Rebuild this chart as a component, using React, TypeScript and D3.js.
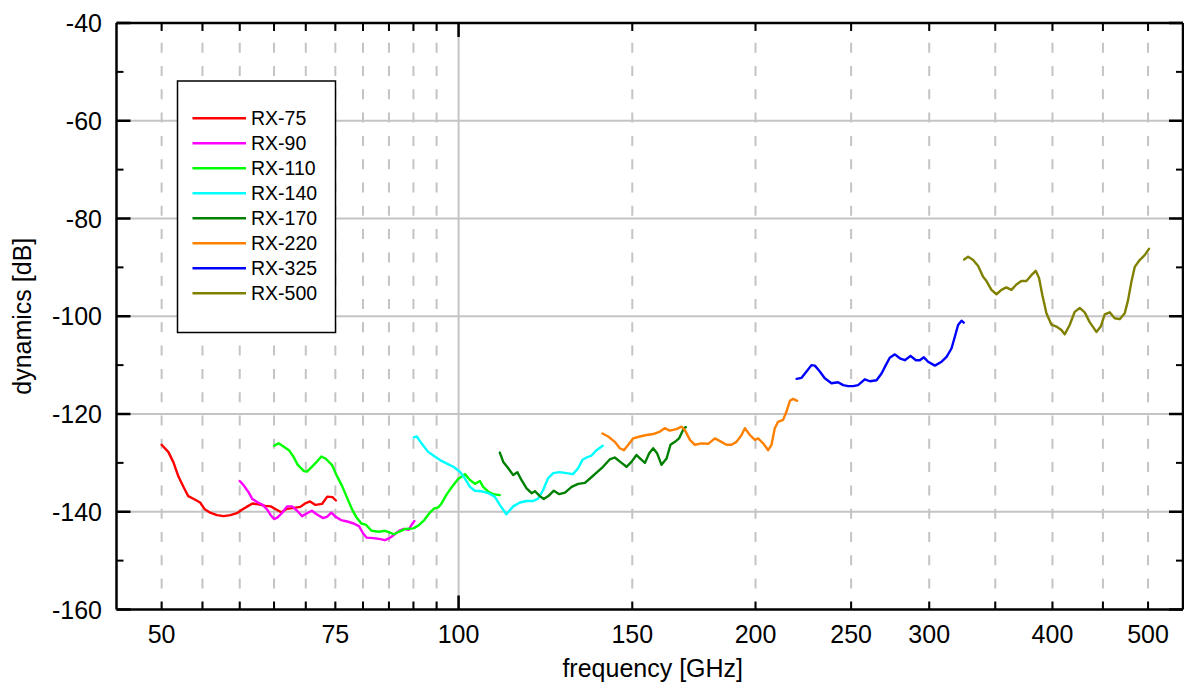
import React from "react";
import * as d3 from "d3";

const W = 1184;
const H = 691;

// ---------- data ----------
const rx75F = [50, 50.8, 51.4, 52.0, 52.7, 53.2, 53.9, 54.7, 55.3, 56.0, 56.9, 57.8, 58.7, 59.6, 60.3, 61.1, 61.8, 62.7, 63.7, 64.5, 65.4, 66.1, 67.0, 68.1, 69.1, 69.9, 70.7, 71.6, 72.7, 73.6, 74.5, 75.1];
const rx75Db = [-126.3, -127.8, -129.9, -132.8, -135.2, -136.8, -137.4, -138.1, -139.5, -140.2, -140.7, -140.9, -140.7, -140.3, -139.6, -138.9, -138.3, -138.5, -138.8, -138.9, -139.6, -140.1, -139.4, -139.2, -139.0, -138.3, -137.9, -138.6, -138.4, -136.9, -137.0, -137.7];

const rx90F = [60, 60.5, 61.2, 61.8, 62.6, 63.3, 64.0, 64.5, 65.0, 65.5, 66.2, 67.0, 67.8, 68.6, 69.4, 70.2, 71.0, 71.8, 72.9, 73.6, 74.3, 75.0, 76.0, 77.1, 78.3, 79.3, 80.0, 80.7, 82.0, 83.3, 84.2, 85.1, 85.9, 87.0, 88.0, 89.0, 89.6, 90.2];
const rx90Db = [-133.7, -134.5, -135.9, -137.4, -138.1, -138.6, -139.6, -140.7, -141.5, -141.2, -140.3, -138.9, -138.9, -139.8, -140.9, -140.3, -139.8, -140.5, -141.3, -141.0, -140.2, -141.0, -141.7, -142.0, -142.4, -143.0, -144.4, -145.3, -145.4, -145.6, -145.8, -145.4, -144.8, -143.9, -143.5, -143.7, -142.7, -141.9];

const rx110F = [65.0, 65.7, 66.5, 67.3, 68.0, 68.7, 69.7, 70.2, 71.0, 71.8, 72.6, 73.3, 74.4, 75.2, 76.1, 77.0, 77.9, 78.7, 79.7, 80.6, 81.6, 83.0, 84.2, 85.1, 86.0, 87.0, 88.3, 90.0, 91.2, 92.3, 93.4, 94.5, 95.4, 96.1, 97.3, 98.4, 99.9, 101.5, 102.7, 103.9, 105.1, 105.9, 107.2, 108.4, 110.1];
const rx110Db = [-126.5, -126.0, -126.7, -127.4, -128.7, -130.4, -131.7, -131.8, -130.8, -129.8, -128.7, -129.1, -130.4, -132.5, -134.5, -136.9, -139.3, -141.0, -142.4, -142.7, -143.9, -144.1, -143.9, -144.2, -144.6, -144.1, -143.5, -143.4, -142.7, -141.7, -140.3, -139.3, -139.1, -138.3, -136.4, -135.0, -133.3, -132.3, -133.5, -134.3, -133.7, -134.9, -135.9, -136.4, -136.6];

const rx140F = [90.1, 90.7, 91.7, 93.1, 94.6, 96.1, 97.2, 98.8, 100.3, 101.5, 102.7, 103.9, 105.5, 107.2, 108.8, 110.1, 111.8, 113.6, 115.4, 117.2, 119.0, 120.4, 121.8, 123.2, 124.7, 126.6, 128.6, 130.6, 132.2, 133.5, 134.8, 136.4, 138.0, 140.0];
const rx140Db = [-124.8, -124.6, -126.0, -127.7, -128.7, -129.6, -130.1, -130.8, -131.8, -133.2, -134.9, -135.7, -135.8, -136.2, -136.9, -138.6, -140.5, -138.9, -138.1, -137.8, -137.8, -137.3, -135.6, -133.2, -132.1, -131.9, -132.1, -132.3, -131.1, -129.4, -128.9, -128.5, -127.4, -126.5];

const rx170F = [110.1, 111.0, 112.3, 113.6, 114.7, 115.8, 117.2, 118.6, 119.5, 120.9, 122.0, 123.3, 124.9, 126.5, 128.2, 130.2, 132.2, 134.3, 135.9, 138.0, 140.1, 142.3, 144.0, 146.3, 148.0, 149.7, 151.5, 153.3, 154.5, 156.0, 157.5, 159.0, 160.6, 162.5, 164.0, 165.7, 167.3, 169.2, 170.0];
const rx170Db = [-127.9, -129.8, -131.1, -132.5, -131.9, -133.5, -135.2, -136.2, -135.8, -136.8, -137.4, -136.8, -135.7, -136.4, -136.1, -134.9, -134.3, -134.1, -133.2, -132.0, -130.8, -129.3, -128.9, -130.0, -130.8, -129.8, -128.4, -129.4, -130.0, -128.1, -127.0, -128.1, -130.4, -129.1, -126.3, -125.7, -125.0, -122.9, -122.7];

const rx220F = [139.9, 141.8, 144.0, 145.7, 147.1, 148.6, 150.3, 152.7, 155.1, 157.5, 160.0, 161.8, 163.7, 166.3, 168.3, 169.6, 171.6, 173.6, 176.3, 179.1, 181.9, 184.7, 186.9, 189.1, 191.3, 193.6, 195.1, 197.4, 199.7, 201.2, 203.6, 206.0, 207.6, 209.2, 210.8, 213.3, 215.0, 216.7, 218.4, 220.4];
const rx220Db = [-124.0, -124.6, -125.7, -127.0, -127.4, -126.3, -125.0, -124.6, -124.3, -124.1, -123.6, -122.9, -123.4, -123.1, -122.6, -123.3, -125.3, -126.3, -126.0, -126.1, -125.0, -125.7, -126.3, -126.3, -125.7, -124.3, -122.9, -124.3, -125.3, -125.0, -126.0, -127.4, -126.3, -122.9, -121.6, -121.2, -119.5, -117.3, -116.9, -117.3];

const rx325F = [220.1, 222.7, 225.3, 227.9, 229.7, 232.4, 235.1, 238.8, 242.5, 245.4, 248.3, 251.2, 254.1, 258.1, 261.2, 265.3, 268.4, 271.1, 273.6, 276.9, 280.1, 283.4, 287.2, 290.8, 293.5, 296.3, 299.2, 304.0, 308.8, 312.4, 316.0, 318.5, 320.9, 323.5, 325.2];
const rx325Db = [-112.8, -112.6, -111.3, -110.0, -110.1, -111.3, -112.7, -113.7, -113.5, -114.1, -114.3, -114.3, -114.1, -112.9, -113.3, -113.1, -111.7, -110.0, -108.5, -107.8, -108.6, -109.0, -108.1, -109.0, -109.0, -108.4, -109.3, -110.1, -109.3, -108.3, -106.6, -104.2, -101.8, -100.9, -101.3];

const rx500F = [325.5, 328.5, 332.4, 336.3, 340.2, 342.9, 346.9, 351.0, 355.1, 359.2, 363.5, 367.7, 372.0, 376.4, 380.8, 384.7, 387.7, 390.7, 394.4, 399.0, 403.7, 408.4, 411.6, 416.4, 421.3, 426.3, 431.3, 436.3, 443.2, 447.7, 451.9, 457.2, 462.5, 468.0, 473.5, 477.2, 480.9, 484.7, 490.3, 496.1, 501.1];
const rx500Db = [-88.4, -87.8, -88.5, -89.7, -91.9, -92.8, -94.6, -95.5, -94.6, -94.1, -94.6, -93.5, -92.8, -92.8, -91.6, -90.7, -92.2, -95.7, -99.4, -101.7, -102.1, -102.8, -103.7, -101.8, -99.1, -98.3, -99.2, -101.2, -103.2, -102.1, -99.6, -99.2, -100.4, -100.6, -99.4, -96.7, -93.0, -89.9, -88.5, -87.5, -86.2];

const seriesNames = ["RX-75", "RX-90", "RX-110", "RX-140", "RX-170", "RX-220", "RX-325", "RX-500"];
const seriesColors = ["#ff0000", "#ff00ff", "#00ff00", "#00ffff", "#008000", "#ff8000", "#0000ff", "#808000"];
const seriesFreqs = [rx75F, rx90F, rx110F, rx140F, rx170F, rx220F, rx325F, rx500F];
const seriesDbs = [rx75Db, rx90Db, rx110Db, rx140Db, rx170Db, rx220Db, rx325Db, rx500Db];

const xTickLabels = [50, 75, 100, 150, 200, 250, 300, 400, 500];
const xMinorTicks = [50, 55, 60, 65, 70, 75, 80, 85, 90, 95, 150, 200, 250, 300, 350, 400, 450, 500];
const xMajorTicks = [100];
const yMajorTicks = [-160, -140, -120, -100, -80, -60, -40];
const yMinorTicks = [-150, -130, -110, -90, -70, -50];
const yGrid = [-140, -120, -100, -80, -60];

// ---------- layout ----------
const L = 116.5;
const R = 1183;
const T = 23;
const B = 609.5;

const x = d3.scaleLog().domain([45, 542.5]).range([L, R]);
const y = d3.scaleLinear().domain([-160, -40]).range([B, T]);

const FONT = "'Liberation Sans', Arial, Helvetica, sans-serif";
const GRID = "#c4c4c4";

export default function App() {
  const line = d3
    .line<[number, number]>()
    .x((d) => x(d[0]))
    .y((d) => y(d[1]));

  return (
    <svg
      width={W}
      height={H}
      viewBox={`0 0 ${W} ${H}`}
      style={{ position: "absolute", left: 0, top: 0, background: "#fff" }}
      fontFamily={FONT}
    >
      <rect x={0} y={0} width={W} height={H} fill="#fff" />
      {/* grid */}
      {xMinorTicks.map((f) => (
        <line
          key={"gx" + f}
          x1={x(f)}
          x2={x(f)}
          y1={T}
          y2={B}
          stroke={GRID}
          strokeWidth={2}
          strokeDasharray="10 13.3"
          strokeDashoffset={3.6}
        />
      ))}
      {xMajorTicks.map((f) => (
        <line key={"gX" + f} x1={x(f)} x2={x(f)} y1={T} y2={B} stroke={GRID} strokeWidth={2} />
      ))}
      {yGrid.map((v) => (
        <line key={"gy" + v} x1={L} x2={R} y1={y(v)} y2={y(v)} stroke={GRID} strokeWidth={2} />
      ))}

      {/* series */}
      {seriesNames.map((name, i) => {
        const pts: [number, number][] = seriesFreqs[i].map((f, j) => [f, seriesDbs[i][j]]);
        return (
          <path
            key={name}
            d={line(pts) || ""}
            fill="none"
            stroke={seriesColors[i]}
            strokeWidth={2.4}
            strokeLinejoin="round"
            strokeLinecap="round"
          />
        );
      })}

      {/* legend */}
      <rect x={177.5} y={81} width={158} height={251.5} fill="#fff" stroke="#000" strokeWidth={1.5} />
      {seriesNames.map((name, i) => {
        const cy = 118.3 + i * 25;
        return (
          <g key={"lg" + name}>
            <line x1={192.5} x2={246} y1={cy} y2={cy} stroke={seriesColors[i]} strokeWidth={2.5} />
            <text x={251} y={cy + 7} fontSize={19.5} fill="#000">
              {name}
            </text>
          </g>
        );
      })}

      {/* axes frame */}
      <line x1={L} x2={R} y1={B} y2={B} stroke="#000" strokeWidth={2.5} />
      <line x1={L} x2={R} y1={T} y2={T} stroke="#000" strokeWidth={2.5} />
      <line x1={L} x2={L} y1={T} y2={B} stroke="#000" strokeWidth={2.5} />
      <line x1={R} x2={R} y1={T} y2={B} stroke="#000" strokeWidth={2.5} />

      {/* x ticks */}
      {xMinorTicks.map((f) => (
        <g key={"tx" + f}>
          <line x1={x(f)} x2={x(f)} y1={B} y2={B - 8} stroke="#000" strokeWidth={2} />
          <line x1={x(f)} x2={x(f)} y1={T} y2={T + 8} stroke="#000" strokeWidth={2} />
        </g>
      ))}
      {xMajorTicks.map((f) => (
        <g key={"tX" + f}>
          <line x1={x(f)} x2={x(f)} y1={B} y2={B - 14} stroke="#000" strokeWidth={2.5} />
          <line x1={x(f)} x2={x(f)} y1={T} y2={T + 14} stroke="#000" strokeWidth={2.5} />
        </g>
      ))}
      {xTickLabels.map((f) => (
        <text key={"lx" + f} x={x(f)} y={642.5} fontSize={25} textAnchor="middle" fill="#000">
          {f}
        </text>
      ))}

      {/* y ticks */}
      {yMajorTicks.map((v) => (
        <g key={"ty" + v}>
          <line x1={L} x2={L + 14} y1={y(v)} y2={y(v)} stroke="#000" strokeWidth={2.5} />
          <line x1={R} x2={R - 14} y1={y(v)} y2={y(v)} stroke="#000" strokeWidth={2.5} />
          <text x={102} y={y(v) + 9} fontSize={25} textAnchor="end" fill="#000">
            {v}
          </text>
        </g>
      ))}
      {yMinorTicks.map((v) => (
        <g key={"tym" + v}>
          <line x1={L} x2={L + 7} y1={y(v)} y2={y(v)} stroke="#000" strokeWidth={2} />
          <line x1={R} x2={R - 7} y1={y(v)} y2={y(v)} stroke="#000" strokeWidth={2} />
        </g>
      ))}

      {/* axis titles */}
      <text x={(L + R) / 2 + 3} y={677} fontSize={25} textAnchor="middle" fill="#000">
        frequency [GHz]
      </text>
      <text
        transform={`translate(31, ${(T + B) / 2}) rotate(-90)`}
        fontSize={25}
        textAnchor="middle"
        fill="#000"
      >
        dynamics [dB]
      </text>
    </svg>
  );
}
